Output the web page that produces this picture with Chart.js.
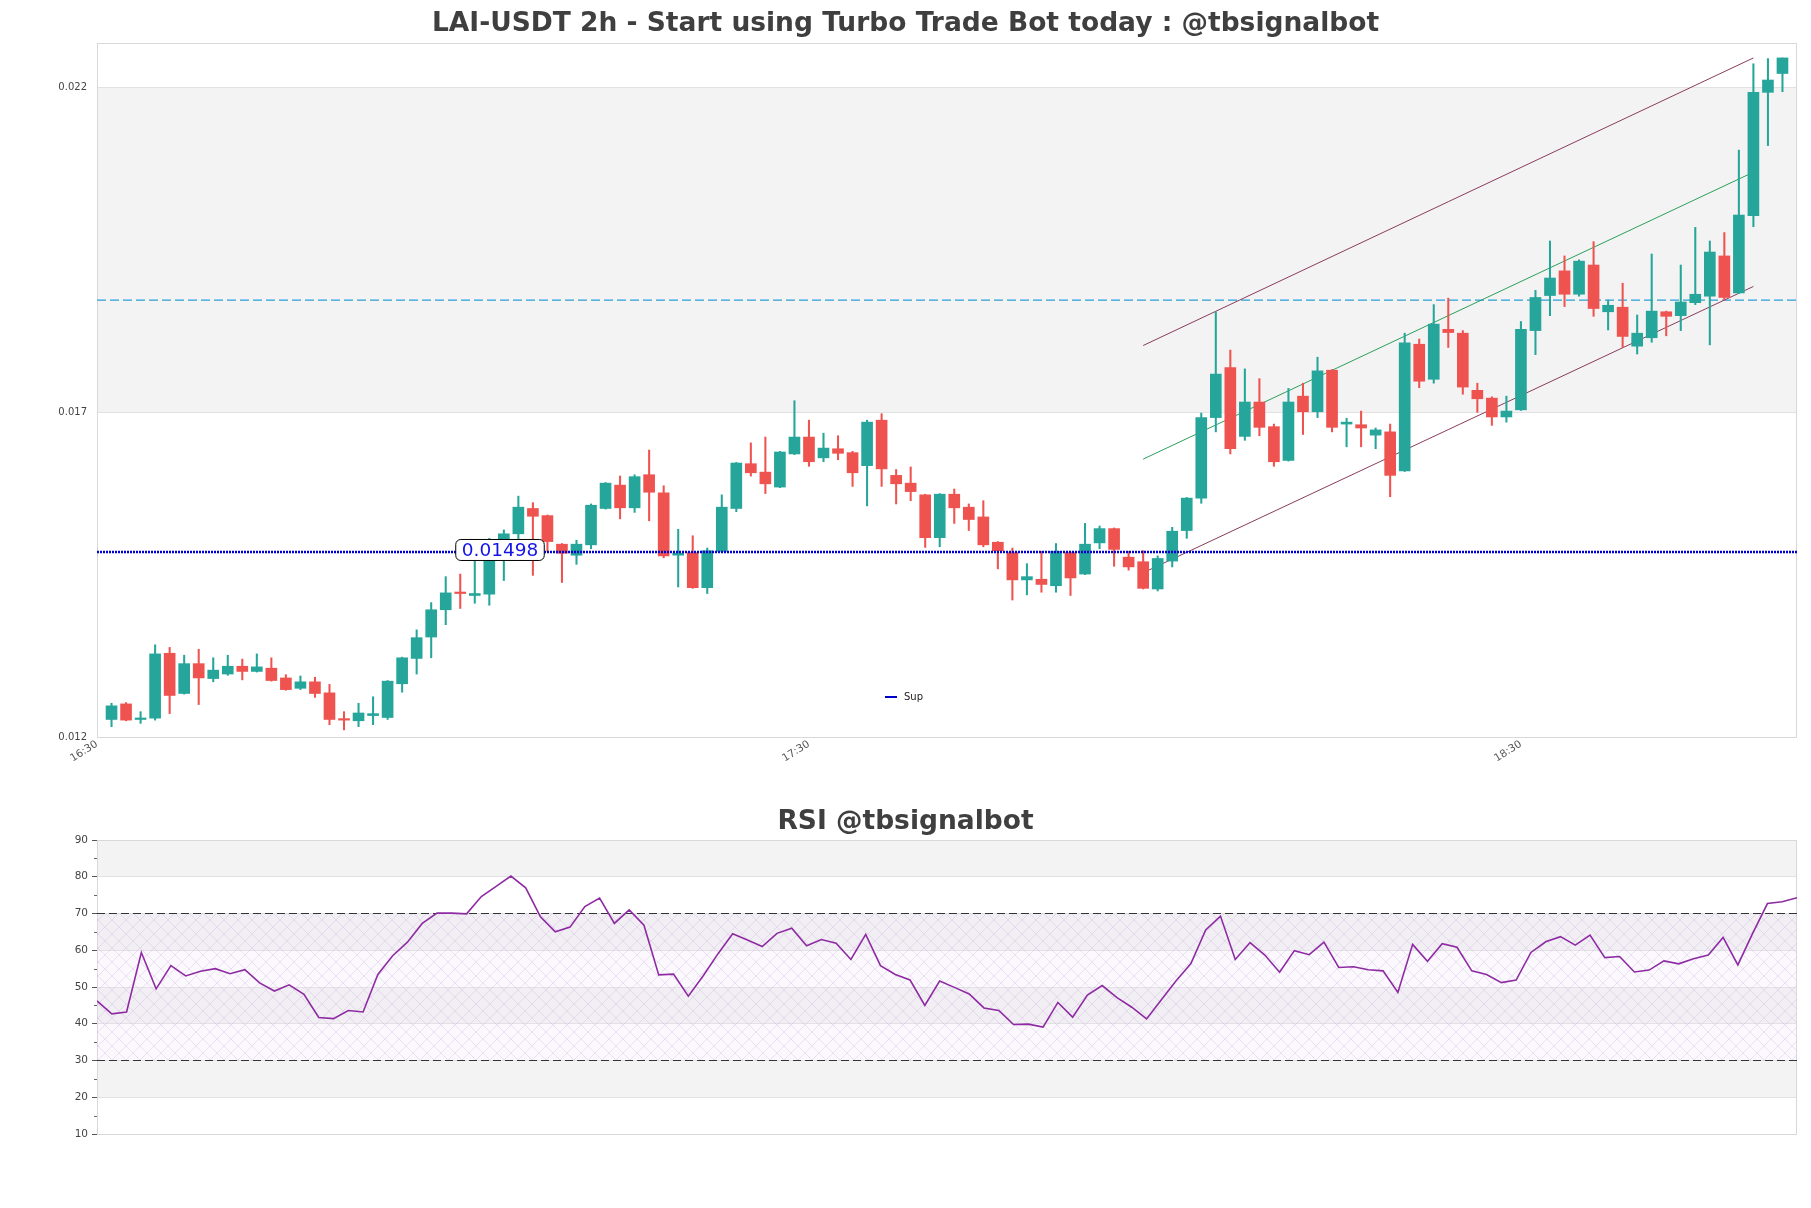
<!DOCTYPE html>
<html>
<head>
<meta charset="utf-8">
<script src="https://cdn.jsdelivr.net/npm/chart.js@4.4.1/dist/chart.umd.min.js"></script>
<style>
  html, body { margin: 0; padding: 0; background: #fff; }
  #wrap { position: relative; width: 1811px; height: 1208px; }
  canvas { position: absolute; left: 0; }
  #main { top: 0; }
  #rsi { top: 780px; }
</style>
</head>
<body>
<div id="wrap">
  <canvas id="main" width="1811" height="780"></canvas>
  <canvas id="rsi" width="1811" height="428"></canvas>
</div>
<script>
// candle data (index = candle number)
const opens = [0.01240,0.01264,0.01240,0.01242,0.01342,0.01280,0.01326,0.01303,0.01310,0.01322,0.01314,0.01319,0.01304,0.01288,0.01298,0.01281,0.01241,0.01238,0.01246,0.01243,
  0.01295,0.01334,0.01367,0.01409,0.01436,0.01431,0.01433,0.01516,0.01526,0.01565,0.01554,0.01510,0.01493,0.01509,0.01565,0.01601,0.01566,0.01617,0.01589,0.01493,
  0.01497,0.01443,0.01499,0.01565,0.01634,0.01621,0.01598,0.01649,0.01675,0.01643,0.01657,0.01651,0.01631,0.01701,0.01616,0.01604,0.01586,0.01520,0.01587,0.01567,
  0.01552,0.01513,0.01497,0.01455,0.01456,0.01446,0.01497,0.01464,0.01512,0.01534,0.01490,0.01483,0.01441,0.01484,0.01531,0.01581,0.01705,0.01782,0.01676,0.01729,
  0.01691,0.01639,0.01738,0.01714,0.01778,0.01695,0.01694,0.01678,0.01683,0.01623,0.01818,0.01764,0.01841,0.01835,0.01747,0.01735,0.01706,0.01717,0.01839,0.01893,
  0.01931,0.01895,0.01940,0.01868,0.01875,0.01815,0.01828,0.01868,0.01862,0.01882,0.01892,0.01954,0.01897,0.02016,0.02206,0.02235];
const highs = [0.01265,0.01266,0.01252,0.01355,0.01351,0.01339,0.01348,0.01335,0.01339,0.01333,0.01341,0.01335,0.01309,0.01307,0.01305,0.01294,0.01252,0.01265,0.01275,0.01300,
  0.01336,0.01378,0.01420,0.01460,0.01464,0.01488,0.01519,0.01532,0.01584,0.01574,0.01555,0.01511,0.01516,0.01572,0.01605,0.01615,0.01617,0.01655,0.01600,0.01533,
  0.01523,0.01504,0.01586,0.01636,0.01666,0.01675,0.01653,0.01731,0.01701,0.01681,0.01677,0.01653,0.01701,0.01711,0.01625,0.01629,0.01587,0.01588,0.01595,0.01572,
  0.01577,0.01514,0.01504,0.01480,0.01499,0.01511,0.01498,0.01542,0.01538,0.01535,0.01499,0.01500,0.01492,0.01536,0.01582,0.01712,0.01868,0.01809,0.01780,0.01765,
  0.01695,0.01750,0.01758,0.01798,0.01779,0.01704,0.01715,0.01689,0.01695,0.01835,0.01826,0.01879,0.01889,0.01839,0.01758,0.01737,0.01738,0.01853,0.01901,0.01977,
  0.01954,0.01948,0.01976,0.01886,0.01912,0.01863,0.01957,0.01869,0.01940,0.01998,0.01977,0.01990,0.02117,0.02250,0.02258,0.02259];
const lows = [0.01229,0.01238,0.01234,0.01239,0.01249,0.01279,0.01263,0.01298,0.01308,0.01301,0.01313,0.01299,0.01285,0.01286,0.01274,0.01232,0.01224,0.01229,0.01232,0.01240,
  0.01282,0.01310,0.01335,0.01386,0.01411,0.01419,0.01416,0.01454,0.01515,0.01462,0.01499,0.01451,0.01479,0.01503,0.01564,0.01549,0.01559,0.01546,0.01489,0.01444,
  0.01442,0.01434,0.01498,0.01560,0.01615,0.01588,0.01597,0.01648,0.01630,0.01637,0.01640,0.01599,0.01569,0.01599,0.01572,0.01577,0.01505,0.01506,0.01542,0.01531,
  0.01506,0.01472,0.01424,0.01432,0.01436,0.01436,0.01431,0.01463,0.01503,0.01476,0.01470,0.01441,0.01438,0.01475,0.01519,0.01573,0.01683,0.01649,0.01670,0.01677,
  0.01630,0.01638,0.01679,0.01705,0.01683,0.01660,0.01660,0.01657,0.01583,0.01622,0.01751,0.01758,0.01813,0.01741,0.01713,0.01693,0.01698,0.01716,0.01802,0.01862,
  0.01876,0.01892,0.01861,0.01840,0.01813,0.01803,0.01821,0.01831,0.01839,0.01879,0.01817,0.01886,0.01896,0.01999,0.02124,0.02207];
const closes = [0.01261,0.01239,0.01242,0.01341,0.01277,0.01326,0.01304,0.01316,0.01322,0.01314,0.01321,0.01300,0.01286,0.01298,0.01280,0.01240,0.01239,0.01250,0.01249,0.01299,
  0.01335,0.01366,0.01409,0.01435,0.01434,0.01434,0.01514,0.01526,0.01567,0.01553,0.01514,0.01496,0.01510,0.01570,0.01604,0.01566,0.01614,0.01590,0.01492,0.01496,
  0.01443,0.01500,0.01567,0.01635,0.01620,0.01603,0.01652,0.01675,0.01637,0.01658,0.01650,0.01620,0.01698,0.01626,0.01603,0.01591,0.01520,0.01587,0.01566,0.01548,
  0.01509,0.01500,0.01455,0.01460,0.01448,0.01499,0.01458,0.01510,0.01534,0.01502,0.01475,0.01442,0.01488,0.01530,0.01581,0.01705,0.01772,0.01657,0.01729,0.01690,
  0.01637,0.01729,0.01714,0.01777,0.01690,0.01698,0.01689,0.01686,0.01616,0.01820,0.01761,0.01849,0.01836,0.01752,0.01734,0.01706,0.01715,0.01841,0.01890,0.01920,
  0.01895,0.01946,0.01873,0.01878,0.01830,0.01835,0.01869,0.01861,0.01883,0.01895,0.01960,0.01890,0.02017,0.02206,0.02225,0.02259];

const rsiValues = [46.2,42.7,43.2,59.4,49.5,55.8,53.0,54.3,55.0,53.6,54.7,51.1,48.9,50.6,48.0,41.7,41.4,43.6,43.2,53.4,
  58.5,62.2,67.3,70.1,70.1,69.9,74.6,77.4,80.2,77.0,69.1,65.0,66.3,71.9,74.2,67.3,71.0,66.8,53.3,53.5,
  47.5,53.0,59.0,64.5,62.8,61.0,64.6,66.0,61.2,62.9,61.9,57.5,64.3,55.8,53.4,51.9,45.0,51.6,49.9,48.1,
  44.3,43.6,39.8,39.9,39.1,45.8,41.8,47.8,50.4,47.1,44.5,41.3,46.5,51.7,56.4,65.5,69.3,57.5,62.1,58.7,
  54.0,59.9,58.8,62.2,55.3,55.5,54.7,54.4,48.5,61.6,57.0,61.8,60.8,54.4,53.4,51.2,51.9,59.4,62.3,63.7,
  61.4,64.1,58.0,58.3,54.1,54.6,57.1,56.3,57.7,58.7,63.5,56.0,64.6,72.7,73.2,74.3];

// channel lines: [start, end] as candle index / price
const channelX = [71, 113];
const channelUpper = [0.01816, 0.02259];
const channelMid = [0.01641, 0.02083];
const channelLower = [0.01466, 0.01907];

const supLevel = 0.01498;
const resLevel = 0.01886;
const rsiUpper = 70;
const rsiLower = 30;

const priceTicks = [0.01213, 0.01713, 0.02213];
const rsiTicks = [10, 20, 30, 40, 50, 60, 70, 80, 90];
const xTickPos = [-1, 48, 97];
const xTickLabels = ['16:30', '17:30', '18:30'];

const X_MIN = -1, X_MAX = 116;
const Y_MIN = 0.01213, Y_MAX = 0.02282;

const GREEN = '#26a69a';
const RED = '#ef5350';
const FONT = 'DejaVu Sans';

Chart.defaults.font.family = FONT;
Chart.defaults.animation = false;

const candleColors = closes.map((c, i) => c >= opens[i] ? GREEN : RED);
const bodyData = opens.map((o, i) => ({ x: i, y: [o, closes[i]] }));
const wickData = lows.map((l, i) => ({ x: i, y: [l, highs[i]] }));
const segment = (ys) => channelX.map((x, i) => ({ x: x, y: ys[i] }));
const flat = (v, a, b) => [{ x: a, y: v }, { x: b, y: v }];

// alternating grey bands between y ticks + white background
const bandPlugin = {
  id: 'bands',
  beforeDraw(chart) {
    const { ctx, chartArea: a, scales: { y } } = chart;
    ctx.save();
    ctx.fillStyle = '#fff';
    ctx.fillRect(0, 0, chart.width, chart.height);
    const edges = y.ticks.map(t => t.value).sort((p, q) => p - q);
    edges.push(y.max);
    ctx.fillStyle = '#f3f3f3';
    for (let k = 1; k < edges.length - 1; k += 2) {
      const top = y.getPixelForValue(edges[k + 1]);
      const bot = y.getPixelForValue(edges[k]);
      ctx.fillRect(a.left, top, a.right - a.left, bot - top);
    }
    ctx.restore();
  },
  beforeDatasetsDraw(chart) {
    const { ctx, chartArea: a } = chart;
    ctx.save();
    ctx.strokeStyle = '#d8d8d8';
    ctx.lineWidth = 1;
    ctx.strokeRect(a.left + 0.5, a.top + 0.5, a.right - a.left - 1, a.bottom - a.top);
    ctx.restore();
  }
};

function titlePlugin(text, yPos) {
  return {
    id: 'ttl',
    afterDraw(chart) {
      const ctx = chart.ctx;
      ctx.save();
      ctx.font = 'bold 26.5px "' + FONT + '"';
      ctx.fillStyle = '#3f3f3f';
      ctx.textAlign = 'center';
      ctx.textBaseline = 'middle';
      ctx.fillText(text, chart.width / 2, yPos);
      ctx.restore();
    }
  };
}

const supLabelPlugin = {
  id: 'supLabel',
  afterDraw(chart) {
    const { ctx, chartArea: a, scales: { y } } = chart;
    ctx.save();
    // price tag on the support line
    const txt = supLevel.toFixed(5);
    ctx.font = '18.5px "' + FONT + '"';
    const w = ctx.measureText(txt).width + 12, h = 21;
    const cx = a.left + 403, cy = y.getPixelForValue(supLevel) - 2;
    ctx.beginPath();
    ctx.roundRect(cx - w / 2, cy - h / 2, w, h, 5);
    ctx.fillStyle = '#fff';
    ctx.fill();
    ctx.strokeStyle = '#000';
    ctx.lineWidth = 1;
    ctx.stroke();
    ctx.fillStyle = '#1414e6';
    ctx.textAlign = 'center';
    ctx.textBaseline = 'middle';
    ctx.fillText(txt, cx, cy + 1);
    // legend
    const ly = a.bottom - 40, lx = a.left + 788;
    ctx.strokeStyle = '#0000cd';
    ctx.lineWidth = 2;
    ctx.beginPath();
    ctx.moveTo(lx, ly);
    ctx.lineTo(lx + 12, ly);
    ctx.stroke();
    ctx.font = '10px "' + FONT + '"';
    ctx.fillStyle = '#222';
    ctx.textAlign = 'left';
    ctx.fillText('Sup', lx + 19, ly);
    ctx.restore();
  }
};

new Chart(document.getElementById('main'), {
  type: 'bar',
  data: {
    datasets: [
      { type: 'line', data: flat(supLevel, X_MIN, X_MAX), borderColor: '#0000cd', borderWidth: 2.5, borderDash: [2, 1], pointRadius: 0, order: 0 },
      { data: bodyData, backgroundColor: candleColors, barThickness: 11, minBarLength: 1.5, grouped: false, order: 1 },
      { data: wickData, backgroundColor: candleColors, barThickness: 1.4, grouped: false, order: 2 },
      { type: 'line', data: segment(channelUpper), borderColor: '#8a3c5e', borderWidth: 1, pointRadius: 0, order: 3 },
      { type: 'line', data: segment(channelMid), borderColor: '#2ba05a', borderWidth: 1, pointRadius: 0, order: 3 },
      { type: 'line', data: segment(channelLower), borderColor: '#8a3c5e', borderWidth: 1, pointRadius: 0, order: 3 },
      { type: 'line', data: flat(resLevel, X_MIN, X_MAX), borderColor: '#2a9fd8', borderWidth: 1.2, borderDash: [9, 4], pointRadius: 0, order: 4 }
    ]
  },
  options: {
    responsive: false,
    devicePixelRatio: 1,
    events: [],
    layout: { padding: { left: 0, right: 14, top: 43, bottom: 3 } },
    plugins: { legend: { display: false }, tooltip: { enabled: false } },
    scales: {
      x: {
        type: 'linear', min: X_MIN, max: X_MAX, offset: false,
        afterBuildTicks: s => { s.ticks = xTickPos.map(v => ({ value: v })); },
        afterFit: s => { s.height = 40; },
        grid: { display: false, drawTicks: false },
        border: { display: false },
        ticks: {
          autoSkip: false, minRotation: 32, maxRotation: 32, padding: 1,
          color: '#555', font: { size: 10.5 },
          callback: (v, i) => xTickLabels[i]
        }
      },
      y: {
        type: 'linear', min: Y_MIN, max: Y_MAX,
        afterBuildTicks: s => { s.ticks = priceTicks.map(v => ({ value: v })); },
        afterFit: s => { s.width = 97; },
        grid: { color: '#e2e2e2', drawTicks: false },
        border: { display: false },
        ticks: { padding: 10, color: '#444', font: { size: 10 }, callback: v => v.toFixed(3) }
      }
    }
  },
  plugins: [bandPlugin, titlePlugin('LAI-USDT 2h - Start using Turbo Trade Bot today : @tbsignalbot', 24), supLabelPlugin]
});

// ---------- RSI panel ----------
function hatchPattern(ctx) {
  const c = document.createElement('canvas');
  c.width = 14; c.height = 14;
  const g = c.getContext('2d');
  g.strokeStyle = 'rgba(185,150,205,0.35)';
  g.lineWidth = 0.7;
  g.beginPath();
  g.moveTo(0, 0); g.lineTo(14, 14);
  g.moveTo(14, 0); g.lineTo(0, 14);
  g.stroke();
  return ctx.createPattern(c, 'repeat');
}

const rsiDecor = {
  id: 'rsiDecor',
  beforeDatasetsDraw(chart) {
    const { ctx, chartArea: a, scales: { y } } = chart;
    ctx.save();
    const top = y.getPixelForValue(rsiUpper), bot = y.getPixelForValue(rsiLower);
    ctx.fillStyle = 'rgba(236,226,244,0.2)';
    ctx.fillRect(a.left, top, a.right - a.left, bot - top);
    ctx.fillStyle = hatchPattern(ctx);
    ctx.fillRect(a.left, top, a.right - a.left, bot - top);
    // minor ticks
    ctx.strokeStyle = '#666';
    ctx.lineWidth = 1;
    for (let k = 0; k < rsiTicks.length - 1; k++) {
      const py = Math.round(y.getPixelForValue((rsiTicks[k] + rsiTicks[k + 1]) / 2)) + 0.5;
      ctx.beginPath();
      ctx.moveTo(a.left - 3, py);
      ctx.lineTo(a.left, py);
      ctx.stroke();
    }
    ctx.restore();
  }
};

new Chart(document.getElementById('rsi'), {
  type: 'line',
  data: {
    datasets: [
      { data: rsiValues.map((v, i) => ({ x: i, y: v })), borderColor: '#8e2ba3', borderWidth: 1.6, pointRadius: 0, tension: 0, order: 0 },
      { data: flat(rsiUpper, 0, rsiValues.length - 1), borderColor: '#333', borderWidth: 1.2, borderDash: [8, 4], pointRadius: 0, order: 1 },
      { data: flat(rsiLower, 0, rsiValues.length - 1), borderColor: '#333', borderWidth: 1.2, borderDash: [8, 4], pointRadius: 0, order: 1 }
    ]
  },
  options: {
    responsive: false,
    devicePixelRatio: 1,
    events: [],
    layout: { padding: { left: 0, right: 14, top: 60, bottom: 74 } },
    plugins: { legend: { display: false }, tooltip: { enabled: false } },
    scales: {
      x: { type: 'linear', min: 0, max: rsiValues.length - 1, display: false },
      y: {
        type: 'linear', min: 10, max: 90,
        afterBuildTicks: s => { s.ticks = rsiTicks.map(v => ({ value: v })); },
        afterFit: s => { s.width = 97; },
        grid: { color: '#e2e2e2', tickColor: '#555', tickLength: 5 },
        border: { display: false },
        ticks: { padding: 4, color: '#444', font: { size: 10.5 } }
      }
    }
  },
  plugins: [bandPlugin, rsiDecor, titlePlugin('RSI @tbsignalbot', 42)]
});
</script>
</body>
</html>
